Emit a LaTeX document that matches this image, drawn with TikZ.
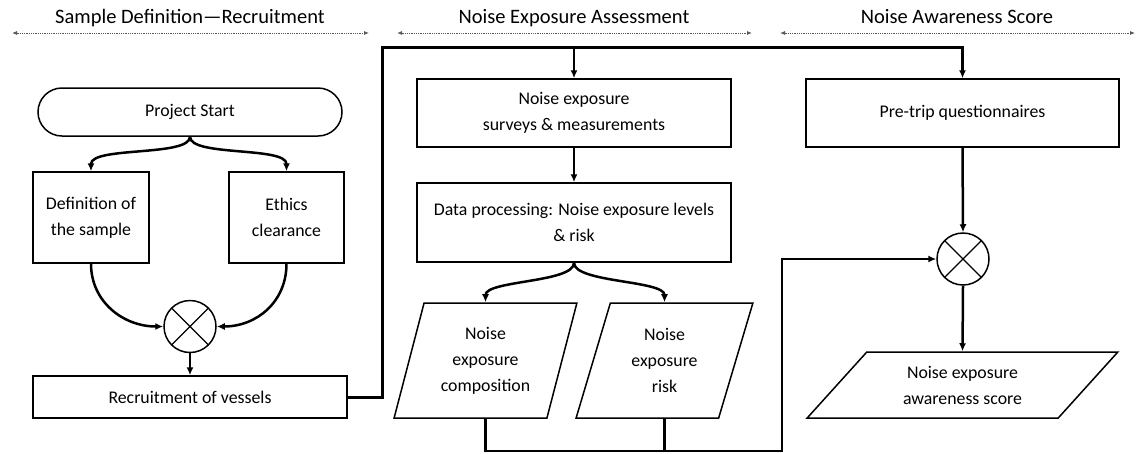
\documentclass[tikz,border=0pt]{standalone}
\usepackage{fontspec}
\setmainfont{Carlito}
\usetikzlibrary{arrows.meta,shapes.geometric}
\newcommand\bodyf{\fontsize{17.8}{26}\selectfont}
\newcommand\titlef{\fontsize{20.5}{24}\selectfont}
\begin{document}
\begin{tikzpicture}[x=1pt,y=-1pt,
  box/.style={draw,line width=1.5pt,align=center,inner sep=0pt,font=\bodyf},
  para/.style={box,shape=trapezium,trapezium stretches=true},
  mult/.style={draw,circle,line width=1.5pt,minimum size=52pt,inner sep=0pt,
    path picture={\draw[line width=1.3pt] (path picture bounding box.north west) -- (path picture bounding box.south east)
      (path picture bounding box.north east) -- (path picture bounding box.south west);}},
  conn/.style={line width=2.5pt,-{Latex[length=8pt,width=7pt]}},
  plain/.style={line width=2.5pt},
  heavy/.style={line width=3pt},
  hdr/.style={densely dotted,line width=0.8pt,black!65,{Latex[length=5pt,width=4pt]}-{Latex[length=5pt,width=4pt]}},
  title/.style={font=\titlef,anchor=base,inner sep=0pt}
]
\useasboundingbox (0,0) rectangle (1139,453);

% headers
\node[title] (t1) at (190,23) {Sample Definition—Recruitment};
\node[title] (t2) at (574,23) {Noise Exposure Assessment};
\node[title] (t3) at (957,23) {Noise Awareness Score};
\coordinate (h1a) at (12,33); \coordinate (h1b) at (369,33);
\coordinate (h2a) at (397,33); \coordinate (h2b) at (752,33);
\coordinate (h3a) at (780,33); \coordinate (h3b) at (1135,33);
\draw[hdr] (h1a) -- (h1b);
\draw[hdr] (h2a) -- (h2b);
\draw[hdr] (h3a) -- (h3b);

% column 1
\node[box,rounded corners=24pt,minimum width=304pt,minimum height=48pt] (start) at (190,112) {Project Start};
\node[box,minimum width=116pt,minimum height=91pt] (def) at (91,217.5) {Definition of\\the sample};
\node[box,minimum width=115pt,minimum height=91pt] (eth) at (286.5,217.5) {Ethics\\clearance};
\node[mult] (m1) at (190,326.5) {};
\node[box,minimum width=314pt,minimum height=42pt] (rec) at (190,397) {Recruitment of vessels};

% column 2
\node[box,minimum width=314pt,minimum height=68pt] (surv) at (574,113) {Noise exposure\\surveys \& measurements};
\node[box,minimum width=314pt,minimum height=79pt] (dp) at (574,222.5) {Data processing: Noise exposure levels\\\& risk};
\node[para,trapezium left angle=72,trapezium right angle=108,minimum width=183pt,minimum height=115pt] (p1) at (485.5,360.5) {Noise\\exposure\\composition};
\node[para,trapezium left angle=72,trapezium right angle=108,minimum width=177pt,minimum height=115pt] (p2) at (664.5,360.5) {Noise\\exposure\\risk};

% column 3
\node[box,minimum width=313pt,minimum height=68pt] (pre) at (962.5,113) {Pre-trip questionnaires};
\node[mult] (m2) at (963,259) {};
\node[para,trapezium left angle=46,trapezium right angle=134,minimum width=311pt,minimum height=66pt] (aw) at (962.5,385) {Noise exposure\\awareness score};

% connectors column 1
\draw[conn] (start.south) .. controls +(0,20) and +(0,-25) .. (def.north);
\draw[conn] (start.south) .. controls +(0,20) and +(0,-25) .. (eth.north);
\draw[conn] (def.south) .. controls +(0,38) and +(-40,0) .. (m1.west);
\draw[conn] (eth.south) .. controls +(0,38) and +(40,0) .. (m1.east);
\draw[conn] (m1.south) -- (rec.north);

% main link
\coordinate (tl) at (382,47);
\draw[heavy,-{Latex[length=8pt,width=7pt]}] (rec.east) -| (tl) -| (pre.north);
\draw[conn] (surv.north |- tl) -- (surv.north);

% connectors column 2
\draw[conn] (surv.south) -- (dp.north);
\draw[conn] (dp.south) .. controls +(0,20) and +(0,-22) .. (p1.north);
\draw[conn] (dp.south) .. controls +(0,20) and +(0,-22) .. (p2.north);
\coordinate (jn) at (782,451);
\draw[conn] (p1.south) |- (jn) |- (m2.west);
\draw[plain] (p2.south) -- (p2.south |- jn);

% connectors column 3
\draw[conn] (pre.south) -- (m2.north);
\draw[conn] (m2.south) -- (aw.north);
\end{tikzpicture}
\end{document}
